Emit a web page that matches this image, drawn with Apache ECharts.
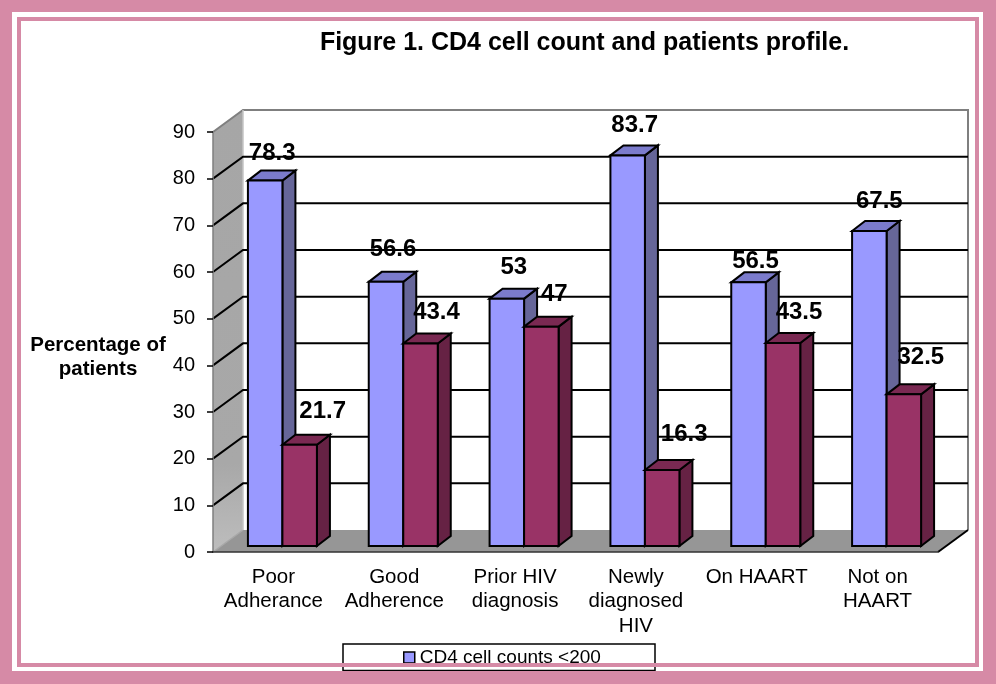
<!DOCTYPE html>
<html><head><meta charset="utf-8">
<style>html,body{margin:0;padding:0;background:#fff}#c{width:996px;height:684px}</style>
<script src="https://cdn.jsdelivr.net/npm/echarts@6/dist/echarts.min.js"></script>
</head><body><div id="c"></div>
<script>
const categories = ['Poor\nAdherance','Good\nAdherence','Prior HIV\ndiagnosis','Newly\ndiagnosed\nHIV','On HAART','Not on\nHAART'];
const below200 = [78.3,56.6,53,83.7,56.5,67.5];
const above200 = [21.7,43.4,47,16.3,43.5,32.5];
const yTicks = [0,10,20,30,40,50,60,70,80,90];
const titleText = 'Figure 1. CD4 cell count and patients profile.';
const yName = 'Percentage of\npatients';
const legendName = 'CD4 cell counts <200';
// pixel nudges of each value label relative to its bar's top-front centre
const blueLabelNudge = [[7,-27],[7,-32],[7,-31],[7,-30],[7,-21],[10,-30]];
const redLabelNudge  = [[23,-33],[16,-31],[13,-32],[22,-36],[16,-31],[17,-37]];

const wall = {dx:30, dy:-22}, barF = {dx:9, dy:-6}, barB = {dx:22, dy:-16}, barW = 34.5;

function backdrop(params, api){
  const cs = params.coordSys;
  const v = api.value(1), y = api.coord([0,v])[1];
  const x0 = cs.x, x1 = cs.x+cs.width, y0 = cs.y+cs.height, yT = cs.y;
  const kids = [];
  if(params.dataIndex===0){
    kids.push({type:'rect',shape:{x:x0+wall.dx,y:yT+wall.dy,width:cs.width,height:cs.height},style:{fill:'#fff'}});
    kids.push({type:'polygon',shape:{points:[[x0,y0],[x0,yT],[x0+wall.dx,yT+wall.dy],[x0+wall.dx,y0+wall.dy]]},
      style:{fill:{type:'linear',x:0,y:0,x2:0,y2:1,colorStops:[{offset:0,color:'#a6a6a6'},{offset:0.8,color:'#a8a8a8'},{offset:1,color:'#bdbdbd'}]}}});
    kids.push({type:'polygon',shape:{points:[[x0,y0],[x0+wall.dx,y0+wall.dy],[x1+wall.dx,y0+wall.dy],[x1,y0]]},style:{fill:'#969696'}});
    kids.push({type:'polyline',shape:{points:[[x0,yT],[x0+wall.dx,yT+wall.dy],[x1+wall.dx,yT+wall.dy],[x1+wall.dx,y0+wall.dy]]},style:{fill:'none',stroke:'#7f7f7f',lineWidth:2}});
    kids.push({type:'line',shape:{x1:x1,y1:y0,x2:x1+wall.dx,y2:y0+wall.dy},style:{stroke:'#000',lineWidth:2}});
    kids.push({type:'line',shape:{x1:x0,y1:y0,x2:x0+wall.dx,y2:y0+wall.dy},style:{stroke:'#a8a8a8',lineWidth:1.5}});
    kids.push({type:'line',shape:{x1:x0+wall.dx,y1:yT+wall.dy,x2:x0+wall.dx,y2:y0+wall.dy},style:{stroke:'#c4c4c4',lineWidth:1.5}});
  } else if(v<90){
    kids.push({type:'polyline',shape:{points:[[x0,y],[x0+wall.dx,y+wall.dy],[x1+wall.dx,y+wall.dy]]},style:{fill:'none',stroke:'#000',lineWidth:2}});
  }
  return {type:'group',children:kids};
}
function bar3d(sign, front, side, top){
  return function(params, api){
    const c = api.coord([api.value(0),api.value(1)]);
    const b = api.coord([api.value(0),0]);
    const l = c[0]+barF.dx+(sign<0?-barW:0), r = l+barW;
    const t = c[1]+barF.dy, bt = b[1]+barF.dy;
    const dx = barB.dx-barF.dx, dy = barB.dy-barF.dy;
    const st = {stroke:'#000',lineWidth:2,lineJoin:'miter'};
    return {type:'group',children:[
      {type:'polygon',shape:{points:[[r,t],[r+dx,t+dy],[r+dx,bt+dy],[r,bt]]},style:Object.assign({fill:side},st)},
      {type:'polygon',shape:{points:[[l,t],[l+dx,t+dy],[r+dx,t+dy],[r,t]]},style:Object.assign({fill:top},st)},
      {type:'rect',shape:{x:l,y:t,width:barW,height:bt-t},style:Object.assign({fill:front},st)}
    ]};
  };
}
function labels(sign, nudge){
  return function(params, api){
    const c = api.coord([api.value(0),api.value(1)]);
    const n = nudge[params.dataIndex];
    return {type:'text',style:{text:String(api.value(1)),x:c[0]+barF.dx+sign*barW/2+n[0],y:c[1]+barF.dy+n[1],
      align:'center',verticalAlign:'middle',fill:'#000',font:'bold 24px "Liberation Sans"'}};
  };
}
const pair = a => a.map((v,i)=>[i,v]);
const chart = echarts.init(document.getElementById('c'),null,{renderer:'canvas'});
function frame(x,y,w,h,lw){return {type:'rect',z:100,silent:true,shape:{x:x+lw/2,y:y+lw/2,width:w-lw,height:h-lw},style:{fill:'none',stroke:'#d68aa6',lineWidth:lw}};}
chart.setOption({
  animation:false,
  textStyle:{fontFamily:'"Liberation Sans"'},
  title:{text:titleText,left:579.5,top:26,textAlign:'center',textStyle:{fontSize:25,fontWeight:'bold',color:'#000',fontFamily:'"Liberation Sans"'}},
  grid:{left:213,right:58,top:132,bottom:132,containLabel:false},
  legend:{data:[{name:legendName,icon:'rect'}],left:403,top:648,itemWidth:11,itemHeight:11,padding:0,
    itemStyle:{borderColor:'#000',borderWidth:1.5},
    textStyle:{fontSize:19,color:'#000',fontFamily:'"Liberation Sans"'}},
  xAxis:{type:'category',data:categories,z:5,
    axisLine:{lineStyle:{color:'#333',width:1.5}},
    axisTick:{length:8,lineStyle:{color:'#000',width:1.5}},
    axisLabel:{fontSize:20.5,color:'#000',margin:13,lineHeight:24.5,interval:0,fontFamily:'"Liberation Sans"'}},
  yAxis:{type:'value',min:0,max:90,interval:10,z:5,splitLine:{show:false},
    axisLine:{show:true,lineStyle:{color:'#7f7f7f',width:1.5}},
    axisTick:{show:true,length:6,lineStyle:{color:'#000',width:1.5}},
    axisLabel:{fontSize:20,color:'#000',margin:18,fontFamily:'"Liberation Sans"'}},
  graphic:[
    {type:'text',z:50,style:{text:yName,x:98,y:357,align:'center',verticalAlign:'middle',lineHeight:24,fill:'#000',font:'bold 20.5px "Liberation Sans"'}},
    {type:'rect',z:3,shape:{x:343,y:644,width:312,height:26.5},style:{fill:'#fff',stroke:'#000',lineWidth:1.5}},
    frame(0,0,996,684,12),
    {type:'rect',z:99,shape:{x:983,y:0,width:13,height:684},style:{fill:'#d68aa6'}},
    {type:'rect',z:99,shape:{x:0,y:671,width:996,height:13},style:{fill:'#d68aa6'}},
    frame(17,17,962,650,4)
  ],
  series:[
    {type:'custom',name:'backdrop',z:1,silent:true,renderItem:backdrop,data:yTicks.map(v=>[0,v]),clip:false},
    {type:'custom',name:legendName,z:2,renderItem:bar3d(-1,'#9999ff','#666699','#7b7bcc'),data:pair(below200),itemStyle:{color:'#9999ff'},clip:false},
    {type:'custom',name:'CD4 cell counts >200',z:3,renderItem:bar3d(1,'#993366','#662244','#7a2952'),data:pair(above200),itemStyle:{color:'#993366'},clip:false},
    {type:'custom',name:'labels1',z:4,silent:true,renderItem:labels(-1,blueLabelNudge),data:pair(below200),clip:false},
    {type:'custom',name:'labels2',z:4,silent:true,renderItem:labels(1,redLabelNudge),data:pair(above200),clip:false}
  ]
});
</script></body></html>
